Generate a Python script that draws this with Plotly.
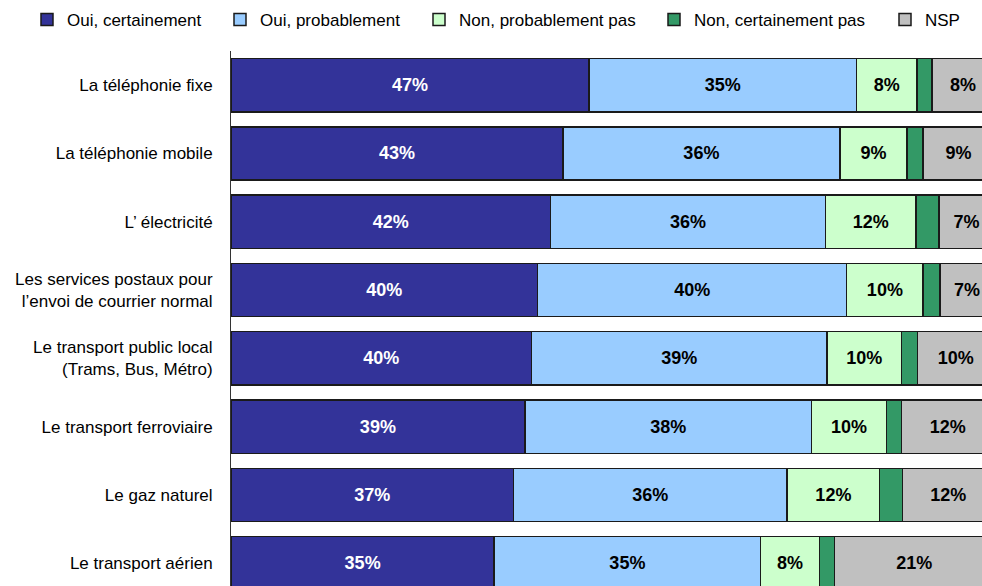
import plotly.graph_objects as go

categories = [
    "La téléphonie fixe",
    "La téléphonie mobile",
    "L’ électricité",
    "Les services postaux pour<br>l’envoi de courrier normal",
    "Le transport public local<br>(Trams, Bus, Métro)",
    "Le transport ferroviaire",
    "Le gaz naturel",
    "Le transport aérien",
]

series_names = ["Oui, certainement", "Oui, probablement", "Non, probablement pas",
                "Non, certainement pas", "NSP"]

oui_cert = [46.9, 43.5, 41.9, 40.2, 39.4, 38.5, 37.0, 34.5]
oui_prob = [35.1, 36.3, 36.0, 40.5, 38.7, 37.6, 35.9, 34.9]
non_prob = [7.9, 8.8, 11.9, 10.0, 9.8, 9.8, 12.1, 7.7]
non_cert = [2.0, 2.1, 3.0, 2.2, 2.1, 2.0, 3.0, 2.0]
nsp = [8.1, 9.3, 7.2, 7.1, 10.0, 12.1, 12.0, 20.9]

lab_oui_cert = ["47%", "43%", "42%", "40%", "40%", "39%", "37%", "35%"]
lab_oui_prob = ["35%", "36%", "36%", "40%", "39%", "38%", "36%", "35%"]
lab_non_prob = ["8%", "9%", "12%", "10%", "10%", "10%", "12%", "8%"]
lab_non_cert = ["", "", "", "", "", "", "", ""]
lab_nsp = ["8%", "9%", "7%", "7%", "10%", "12%", "12%", "21%"]

colors = ["#333399", "#99CCFF", "#CCFFCC", "#339966", "#C0C0C0"]
text_colors = ["white", "black", "black", "black", "black"]

values = [oui_cert, oui_prob, non_prob, non_cert, nsp]
labels = [lab_oui_cert, lab_oui_prob, lab_non_prob, lab_non_cert, lab_nsp]

FONT = "Liberation Sans, Arial, sans-serif"

W, H = 982, 586
L, T, B = 231, 51, 0
plot_w = W - L
plot_h = H - T - B

legend_text_px = [67, 260, 459, 694, 925]
legend_keys = ["legend", "legend2", "legend3", "legend4", "legend5"]

fig = go.Figure()
for i in range(5):
    fig.add_trace(go.Bar(
        y=categories, x=values[i], orientation="h", name=series_names[i],
        marker=dict(color=colors[i], line=dict(color="#1a1a1a", width=1.5)),
        text=labels[i], textposition="inside", insidetextanchor="middle",
        constraintext="none",
        textfont=dict(family=FONT, size=18, color=text_colors[i], weight="bold"),
        legend=legend_keys[i], hoverinfo="skip", showlegend=True,
    ))

layout_legends = {}
for i, key in enumerate(legend_keys):
    left_px = legend_text_px[i] - 40
    layout_legends[key] = dict(
        x=(left_px - L) / plot_w, xanchor="left",
        y=1 + (T - 20) / plot_h, yanchor="middle",
        orientation="h", bgcolor="rgba(0,0,0,0)", borderwidth=0,
        font=dict(family=FONT, size=17, color="black"), visible=True,
    )

fig.update_layout(
    width=W, height=H, showlegend=True,
    margin=dict(l=L, r=0, t=T, b=B, pad=0, autoexpand=False),
    barmode="stack", bargap=0.22,
    plot_bgcolor="white", paper_bgcolor="white",
    font=dict(family=FONT, size=17, color="black"),
    xaxis=dict(range=[0, plot_w / 7.63], visible=False, fixedrange=True),
    yaxis=dict(
        type="category", range=[-0.5 + plot_h / 68.3, -0.5],
        showline=True, linecolor="#333333", linewidth=1,
        showgrid=False, ticks="", ticklabelstandoff=14,
        tickfont=dict(family=FONT, size=17, color="black"), fixedrange=True,
    ),
    **layout_legends,
)

fig.write_html(
    "out.html",
    config={"displayModeBar": False, "staticPlot": False},
    post_script="document.body.style.margin='0';document.body.style.overflow='hidden';",
)
